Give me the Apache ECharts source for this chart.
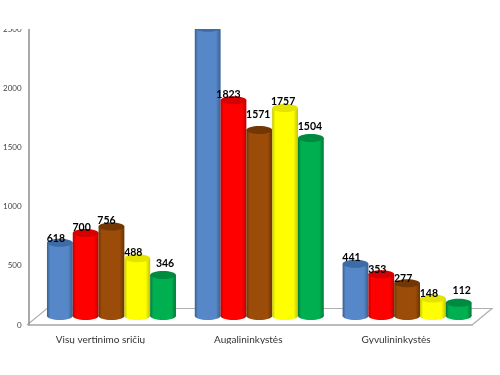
<!DOCTYPE html>
<html>
<head>
<meta charset="utf-8">
<style>
  html, body { margin: 0; padding: 0; background: #fff; }
  #chart { width: 500px; height: 375px; filter: blur(0.35px); }
</style>
<script src="https://cdn.jsdelivr.net/npm/echarts@6/dist/echarts.min.js"></script>
</head>
<body>
<div id="chart"></div>
<script>
  var categories = ['Visų vertinimo sričių', 'Augalininkystės', 'Gyvulininkystės'];
  var blueValues = [618, 2435, 441];
  var redValues = [700, 1823, 353];
  var brownValues = [756, 1571, 277];
  var yellowValues = [488, 1757, 148];
  var greenValues = [346, 1504, 112];
  // the top blue bar runs off the picture, its label is cut away with it
  var yTicks = { min: 0, max: 2500, interval: 500 };

  // [edge, centre, cap]
  var blueShades = ['#36608f', '#5687c8', '#3c6ba5'];
  var redShades = ['#c00000', '#ff0000', '#d60000'];
  var brownShades = ['#6b3404', '#9a4c08', '#733705'];
  var yellowShades = ['#c4c400', '#ffff00', '#e4e400'];
  var greenShades = ['#007a3a', '#00b050', '#008a40'];

  // hand placed labels in the original, px nudges per category
  var blueNudge = [[-4, 2], [0, 0], [-4, 0]];
  var redNudge = [[-4, 0], [-5, 0], [-4, 1]];
  var brownNudge = [[-5, 0], [-1, -9], [-4, 1]];
  var yellowNudge = [[-4, 0], [-2, 0], [-4, 1]];
  var greenNudge = [[2, -5], [-1, -5], [3, -6]];

  var barW = 25.8;
  var capRy = 4;
  var depthX = 9;
  var depthY = -9;

  function cylinder(slot, shades, nudges) {
    return function (params, api) {
      var i = api.value(0);
      var val = api.value(1);
      var top = api.coord([i, val]);
      var base = api.coord([i, 0]);
      var cx = top[0] + depthX + (slot - 2) * barW;
      var topY = top[1] + depthY;
      var baseY = base[1] + depthY;
      var body = new echarts.graphic.LinearGradient(0, 0, 1, 0, [
        { offset: 0, color: shades[0] },
        { offset: 0.12, color: shades[1] },
        { offset: 0.82, color: shades[1] },
        { offset: 1, color: shades[0] }
      ]);
      return {
        type: 'group',
        children: [
          { type: 'ellipse', shape: { cx: cx, cy: baseY, rx: barW / 2, ry: capRy }, style: { fill: body } },
          { type: 'rect', shape: { x: cx - barW / 2, y: topY, width: barW, height: baseY - topY }, style: { fill: body } },
          { type: 'ellipse', shape: { cx: cx, cy: topY, rx: barW / 2, ry: capRy }, style: { fill: shades[2] } },
          {
            type: 'text',
            z2: 100,
            style: {
              x: cx + nudges[i][0],
              y: topY - 6 + nudges[i][1],
              text: String(val),
              fill: '#000',
              font: 'bold 10.5px Lato',
              align: 'center',
              verticalAlign: 'middle'
            }
          }
        ]
      };
    };
  }

  function makeSeries(name, slot, values, shades, nudges) {
    return {
      name: name,
      type: 'custom',
      silent: true,
      clip: false,
      encode: { x: 0, y: 1 },
      data: values.map(function (v, i) { return [i, v]; }),
      renderItem: cylinder(slot, shades, nudges)
    };
  }

  var myChart = echarts.init(document.getElementById('chart'));
  myChart.setOption({
    animation: false,
    backgroundColor: '#fff',
    grid: { left: 27, right: 28, top: 29, bottom: 50 },
    xAxis: {
      type: 'category',
      data: categories,
      axisTick: { show: false },
      axisLine: { lineStyle: { color: '#a6a6a6', width: 1.5 } },
      axisLabel: { color: '#333', fontFamily: 'Lato', fontSize: 10, margin: 10, padding: [0, 4, 0, 0] }
    },
    yAxis: {
      type: 'value',
      min: yTicks.min,
      max: yTicks.max,
      interval: yTicks.interval,
      splitLine: { show: false },
      axisTick: { show: false },
      axisLine: { show: true, lineStyle: { color: '#8c8c8c', width: 1.5 } },
      axisLabel: {
        color: '#444',
        fontFamily: 'Lato',
        fontSize: 8,
        margin: 7,
        formatter: function (v) { return String(v); }
      }
    },
    series: [
      makeSeries('blue', 0, blueValues, blueShades, blueNudge),
      makeSeries('red', 1, redValues, redShades, redNudge),
      makeSeries('brown', 2, brownValues, brownShades, brownNudge),
      makeSeries('yellow', 3, yellowValues, yellowShades, yellowNudge),
      makeSeries('green', 4, greenValues, greenShades, greenNudge)
    ],
    graphic: [
      // 3d floor behind the bars
      {
        type: 'polyline',
        z: 0,
        silent: true,
        shape: { points: [[27, 325], [47, 308.5], [492, 308.5], [472, 325]] },
        style: { stroke: '#b0b0b0', lineWidth: 1.2, fill: 'none' }
      },
      // the source picture is cropped at top and bottom
      { type: 'rect', z: 200, silent: true, shape: { x: 0, y: 0, width: 500, height: 29 }, style: { fill: '#fff' } },
      { type: 'rect', z: 200, silent: true, shape: { x: 0, y: 344, width: 500, height: 31 }, style: { fill: '#fff' } }
    ]
  });
</script>
</body>
</html>
